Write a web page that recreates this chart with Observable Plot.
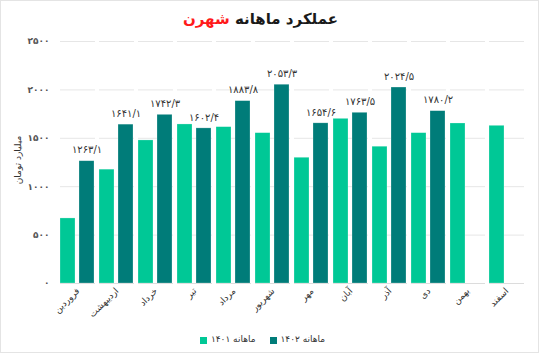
<!DOCTYPE html>
<html><head><meta charset="utf-8">
<script src="https://cdn.jsdelivr.net/npm/d3@7"></script>
<script src="https://cdn.jsdelivr.net/npm/@observablehq/plot@0.6"></script>
<style>
body{margin:0;background:#fff;font-family:"DejaVu Sans",sans-serif;}
#wrap{position:relative;width:537px;height:351px;border:1px solid #e4e4e4;overflow:hidden;background:#fff}
#title{height:30px;line-height:36px;text-align:center;direction:rtl;font-weight:bold;font-size:15px;color:#1a1a1a;padding-right:18px}
#title .red{color:#ff1a1a}
#legend{display:flex;justify-content:center;align-items:center;height:16px;font-size:9px;color:#333;padding-right:14px}
.item{display:flex;align-items:center;margin:0 7px}
.sw{width:7px;height:7px;margin-right:4px;margin-top:2px}
#ylabel{position:absolute;left:17px;top:159px;transform:translate(-50%,-50%) rotate(-90deg);white-space:nowrap;font-size:9px;color:#333;direction:rtl}
svg{display:block}
</style></head>
<body>
<div id="wrap">
<div id="title">عملکرد ماهانه <span class="red">شهرن</span></div>
<div id="chart"></div>
<div id="legend"></div>
<div id="ylabel"></div>
</div>
<script>
const months = ["فروردین","اردیبهشت","خرداد","تیر","مرداد","شهریور","مهر","آبان","آذر","دی","بهمن","اسفند"];
const series = ["ماهانه ۱۴۰۱","ماهانه ۱۴۰۲"];
const values1401 = [672,1176,1478,1643,1615,1553,1299,1701,1413,1553,1653,1629];
const values1402 = [1263.1,1641.1,1742.3,1602.4,1883.8,2053.3,1654.6,1763.5,2024.5,1780.2,null,null];
const yTicks = [0,500,1000,1500,2000,2500];
const colors = ["#00c896","#007c79"];
const yLabel = "میلیارد تومان";

const fa = n => String(n).replace(/\d/g, d => "۰۱۲۳۴۵۶۷۸۹"[d]).replace(".", "/");

const data = [];
months.forEach((m, i) => {
  data.push({month: m, series: series[0], value: values1401[i]});
  data.push({month: m, series: series[1], value: values1402[i]});
});
const valid = data.filter(d => d.value != null);

const chart = Plot.plot({
  width: 537, height: 300,
  marginTop: 10, marginLeft: 54, marginRight: 8, marginBottom: 48,
  style: {fontFamily: "DejaVu Sans, sans-serif", background: "#fff"},
  fx: {domain: months, padding: 0.1, label: null},
  x: {domain: series, paddingInner: 0.2, paddingOuter: 0.02, axis: null},
  y: {domain: [0, 2500]},
  color: {domain: series, range: colors},
  marks: [
    Plot.gridY(yTicks, {stroke: "#e6e6e6", strokeOpacity: 1}),
    Plot.ruleY([0], {stroke: "#dcdcdc"}),
    Plot.axisY(yTicks, {tickSize: 0, tickPadding: 11, tickFormat: fa, fontSize: 9, fill: "#555", fontWeight: "bold", label: null}),
    Plot.axisFx({anchor: "bottom", tickRotate: -45, tickSize: 0, tickPadding: 6, fontSize: 9, fill: "#333", label: null}),
    Plot.barY(valid, {fx: "month", x: "series", y: "value", fill: "series", stroke: "#ffffff", strokeOpacity: 0.4, strokeWidth: 0.6}),
    Plot.text(valid.filter(d => d.series === series[1]), {fx: "month", x: "series", y: "value", text: d => fa(d.value),
      dy: -11, fontSize: 10, fill: "#333", fontWeight: 500})
  ]
});
document.getElementById("chart").appendChild(chart);
document.getElementById("ylabel").textContent = yLabel;

const legend = document.getElementById("legend");
series.forEach((s, i) => {
  const it = document.createElement("div"); it.className = "item";
  const sw = document.createElement("div"); sw.className = "sw"; sw.style.background = colors[i];
  const tx = document.createElement("span"); tx.textContent = s; tx.style.direction = "rtl";
  it.appendChild(sw); it.appendChild(tx); legend.appendChild(it);
});
</script>
</body></html>
